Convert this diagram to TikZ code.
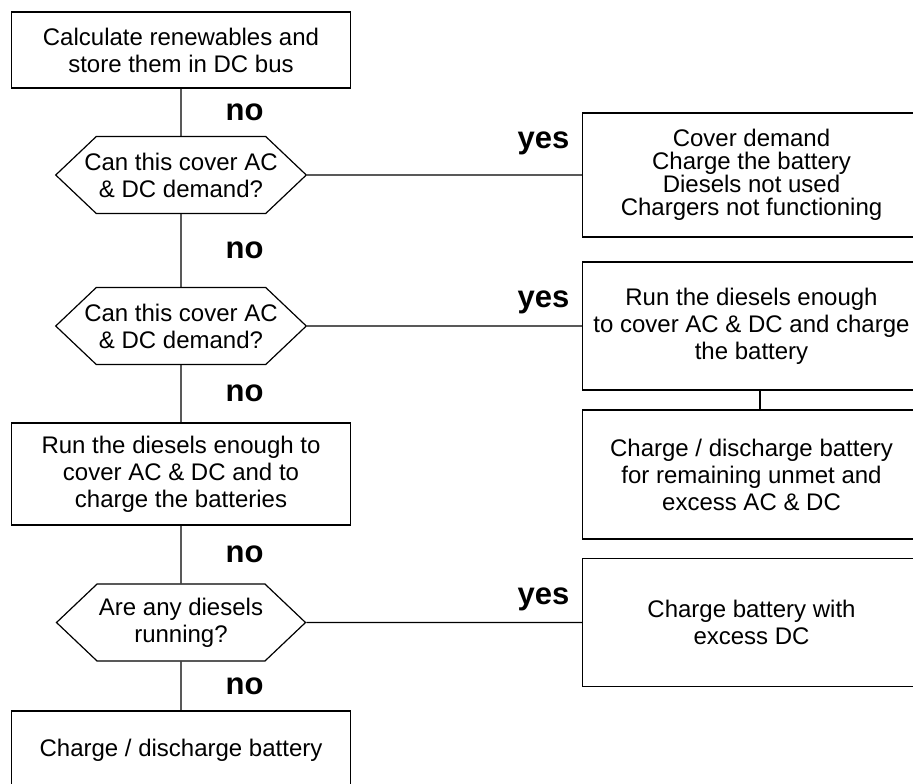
\documentclass[tikz,border=0pt]{standalone}
\usepackage{fontspec}
\setmainfont{Liberation Sans}
\usetikzlibrary{shapes.symbols}

\tikzset{
	box/.style = {draw, rectangle, align = center, inner sep = 2pt,
		minimum width = 169.5pt, font = \fontsize{12}{13.5}\selectfont},
	decide/.style = {draw, signal, signal to = east and west, signal pointer angle = 87,
		align = center, inner xsep = -6pt, inner ysep = 1pt, minimum width = 124.5pt, minimum height = 38.5pt,
		font = \fontsize{12}{13.5}\selectfont},
	nolbl/.style = {right, inner sep = 0pt, xshift = 22pt, font = \fontsize{15.5}{15.5}\bfseries\selectfont},
	yeslbl/.style = {pos = 1, anchor = south east, inner sep = 0pt, xshift = -6pt, yshift = 5.5pt,
		font = \fontsize{15.5}{15.5}\bfseries\selectfont}
}

\begin{document}
\begin{tikzpicture} [x = 0.5pt, y = -0.5pt, line width = 0.6pt]
	\useasboundingbox (0,0) rectangle (913,783);
	\clip (0,0) rectangle (913,783);
	% left column
	\node [box, minimum height = 38pt] (calc) at (181,50) {Calculate renewables and\\store them in DC bus};
	\node [decide] (chk1) at (181,175) {Can this cover AC\\\& DC demand?};
	\node [decide] (chk2) at (181,326) {Can this cover AC\\\& DC demand?};
	\node [box, minimum height = 51pt] (rundsl) at (181,474) {Run the diesels enough to\\cover AC \& DC and to\\charge the batteries};
	\node [decide] (chk3) at (181,622.5) {Are any diesels\\running?};
	\node [box, minimum height = 39pt] (chgdis) at (181,750) {Charge / discharge battery};
	% right column
	\node [box, minimum width = 169pt, minimum height = 62pt, font = \fontsize{12}{11.5}\selectfont] (cover) at (751.5,175) {Cover demand\\Charge the battery\\Diesels not used\\Chargers not functioning};
	\node [box, minimum width = 169pt, minimum height = 64pt] (runchg) at (751.5,326) {Run the diesels enough\\to cover AC \& DC and charge\\the battery};
	\node [box, minimum width = 169pt, minimum height = 64.5pt] (remain) at (751.5,474.5) {Charge / discharge battery\\for remaining unmet and\\excess AC \& DC};
	\node [box, minimum width = 169pt, minimum height = 64pt] (excess) at (751.5,622.5) {Charge battery with\\excess DC};
	% connectors
	\draw (calc) -- node [nolbl] {no} (chk1);
	\draw (chk1) -- node [nolbl] {no} (chk2);
	\draw (chk2) -- node [nolbl] {no} (rundsl);
	\draw (rundsl) -- node [nolbl] {no} (chk3);
	\draw (chk3) -- node [nolbl] {no} (chgdis);
	\draw (chk1) -- node [yeslbl, yshift = 4pt] {yes} (cover);
	\draw (chk2) -- node [yeslbl] {yes} (runchg);
	\draw (chk3) -- node [yeslbl] {yes} (excess);
	\draw ([xshift = 4.25pt]runchg.south) -- ([xshift = 4.25pt]runchg.south |- remain.north);
\end{tikzpicture}
\end{document}
